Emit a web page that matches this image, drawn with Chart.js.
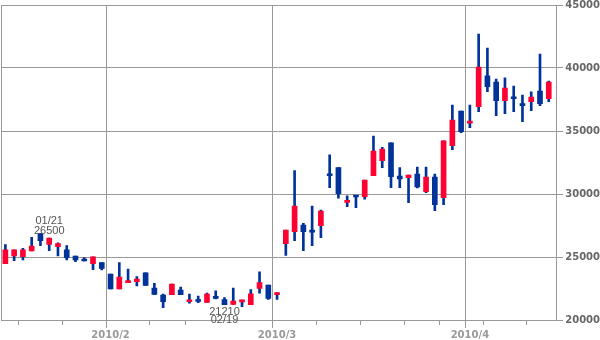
<!DOCTYPE html>
<html>
<head>
<meta charset="utf-8">
<script src="https://cdn.jsdelivr.net/npm/chart.js@4/dist/chart.umd.min.js"></script>
<style>
  html, body { margin: 0; padding: 0; background: #fff; }
</style>
</head>
<body>
<canvas id="grafica" width="600" height="340"></canvas>
<script>
// ─────────────────────────────────────────
// DATOS (2010, velas diarias)
// ─────────────────────────────────────────

const fechas = [
  "01/14","01/15","01/18","01/19","01/20","01/21","01/22","01/25","01/26","01/27","01/28","01/29",
  "02/01","02/02","02/03","02/04","02/05","02/08","02/09","02/10","02/12","02/15","02/16","02/17",
  "02/18","02/19","02/22","02/23","02/24","02/25","02/26",
  "03/01","03/02","03/03","03/04","03/05","03/08","03/09","03/10","03/11","03/12","03/15","03/16",
  "03/17","03/18","03/19","03/23","03/24","03/25","03/26","03/29","03/30","03/31",
  "04/01","04/02","04/05","04/06","04/07","04/08","04/09","04/12","04/13","04/14"
];

const aperturas = [
  24480, 25080, 25020, 25480, 26860, 25990, 25820, 25560, 25080, 24720, 24480, 24550,
  23650, 22460, 22960, 23040, 23750, 22540, 21980, 22020, 22380, 21450, 21530, 21400,
  21870, 21630, 21230, 21440, 21210, 22500, 22780,
  22010, 26050, 27010, 27540, 27050, 27480, 31560, 32090, 29340, 29820, 29790, 31450,
  32640, 34070, 31430, 31290, 31590, 30180, 31350, 29710, 33830, 36590,
  35630, 36930, 39370, 38890, 37400, 37720, 37060, 37330, 38170, 37560
];

const maximos = [
  25990, 25560, 25690, 26560, 26860, 26500, 26130, 25900, 25080, 24960, 25020, 24550,
  23650, 24550, 24050, 23440, 23750, 22920, 22060, 22860, 22620, 22050, 21900, 22140,
  22320, 21770, 22540, 21590, 22420, 23830, 22780,
  22170, 27140, 31850, 27670, 29050, 28730, 33100, 32090, 29860, 29830, 31110, 34600,
  33710, 34070, 32090, 31510, 32140, 32140, 31590, 34210, 37060, 36590,
  37060, 42700, 41590, 39130, 39210, 38570, 37860, 38100, 41110, 38970
];

const minimos = [
  24480, 24700, 24760, 25480, 25900, 25500, 25080, 24760, 24620, 24680, 23990, 23970,
  22460, 22460, 22960, 22710, 22740, 22040, 20980, 22020, 22020, 21330, 21370, 21400,
  21680, 21210, 21230, 21060, 21210, 22120, 21640,
  21630, 25120, 26290, 25500, 25900, 26530, 30500, 29660, 28990, 28910, 29580, 31450,
  32090, 30500, 30500, 29310, 30480, 30100, 28670, 29150, 33520, 34860,
  35260, 36530, 38120, 36210, 36370, 36530, 35740, 36610, 37010, 37330
];

const cierres = [
  25560, 25560, 25560, 25870, 26290, 26500, 26060, 24940, 24760, 24680, 25020, 24100,
  22460, 23410, 23120, 23250, 22740, 22040, 21450, 22860, 22020, 21530, 21470, 22050,
  21720, 21210, 21510, 21590, 22080, 22960, 21710,
  22170, 27140, 29050, 27010, 26980, 28650, 31450, 30020, 29440, 29760, 31110, 33410,
  33570, 31370, 31190, 31510, 30560, 31350, 29150, 34210, 35870, 34940,
  35790, 40080, 38520, 37400, 38410, 37560, 37010, 37700, 37170, 38890
];

// marcas semanales del eje X
const semanas = ["01/18","01/25","02/01","02/08","02/15","03/01","03/08","03/15","03/23","03/29","04/05","04/12"];

// notas: cierre máximo y mínimo
const notas = [
  { fecha: "01/21", valor: 26500, arriba: true },
  { fecha: "02/19", valor: 21210, arriba: false }
];

const SUBE  = "#ff0033";
const BAJA  = "#003399";
const GRIS  = "#999999";

// ─────────────────────────────────────────
// HELPERS
// ─────────────────────────────────────────

const esMes    = i => !!fechas[i] && fechas[i].endsWith("/01");
const esSemana = i => semanas.includes(fechas[i]);

const cuerpos  = fechas.map((f, i) => ({ x: i, y: [aperturas[i], cierres[i]] }));
const mechas   = fechas.map((f, i) => ({ x: i, y: [minimos[i], maximos[i]] }));
const colores  = fechas.map((f, i) => cierres[i] >= aperturas[i] ? SUBE : BAJA);

const fuenteX = { family: "DejaVu Sans", weight: "bold", size: 10, lineHeight: 1 };
const fuenteY = { family: "DejaVu Sans", weight: "bold", size: 10, lineHeight: 0.6 };

const etiquetaNotas = {
  id: "notas",
  afterDatasetsDraw(chart) {
    const { ctx, scales: { x, y } } = chart;
    ctx.save();
    ctx.font = '11px "Liberation Sans"';
    ctx.fillStyle = "#555";
    ctx.textAlign = "center";
    ctx.textBaseline = "alphabetic";
    notas.forEach(n => {
      const px = x.getPixelForValue(fechas.indexOf(n.fecha));
      const py = y.getPixelForValue(n.valor);
      if (n.arriba) {
        ctx.fillText(String(n.valor), px, py - 4);
        ctx.fillText(n.fecha, px, py - 14);
      } else {
        ctx.fillText(String(n.valor), px, py + 10);
        ctx.fillText(n.fecha, px, py + 18.5);
      }
    });
    ctx.restore();
  }
};

// ─────────────────────────────────────────
// GRÁFICA
// ─────────────────────────────────────────

new Chart(document.getElementById("grafica"), {
  type: "bar",
  data: {
    datasets: [
      {
        data: cuerpos,
        backgroundColor: colores,
        barThickness: 5,
        minBarLength: 2,
        grouped: false,
        order: 0
      },
      {
        data: mechas,
        backgroundColor: BAJA,
        barThickness: 2,
        grouped: false,
        order: 1
      }
    ]
  },
  options: {
    responsive: false,
    animation: false,
    layout: { padding: { top: 3, left: 1, right: -2, bottom: -2 } },
    plugins: {
      legend: { display: false },
      tooltip: { enabled: false }
    },
    scales: {
      x: {
        type: "linear",
        offset: false,
        min: -0.5,
        max: fechas.length - 0.15,   // un poco de aire a la derecha
        afterBuildTicks: scale => { scale.ticks = fechas.map((f, i) => ({ value: i })); },
        border: { color: GRIS },
        grid: {
          color: ctx => esMes(ctx.tick && ctx.tick.value) ? GRIS : "transparent",
          tickColor: ctx => (esMes(ctx.tick && ctx.tick.value) || esSemana(ctx.tick && ctx.tick.value)) ? GRIS : "transparent",
          tickBorderDash: ctx => esMes(ctx.tick && ctx.tick.value) ? [] : [4, 20],
          tickLength: 8
        },
        ticks: {
          autoSkip: false,
          maxRotation: 0,
          padding: 2,
          color: "#999",
          font: fuenteX,
          callback: v => esMes(v) ? "2010/" + parseInt(fechas[v].slice(0, 2), 10) : ""
        }
      },
      y: {
        position: "right",
        min: 20000,
        max: 45000,
        border: { color: GRIS },
        grid: { color: GRIS, tickLength: 7 },
        ticks: {
          stepSize: 5000,
          padding: 2,
          color: "#666",
          font: fuenteY,
          callback: v => String(v)
        }
      },
      yIzq: {
        position: "left",
        min: 20000,
        max: 45000,
        border: { display: true, color: GRIS },
        grid: { display: false, drawTicks: false },
        ticks: { display: false }
      }
    }
  },
  plugins: [etiquetaNotas]
});
</script>
</body>
</html>
